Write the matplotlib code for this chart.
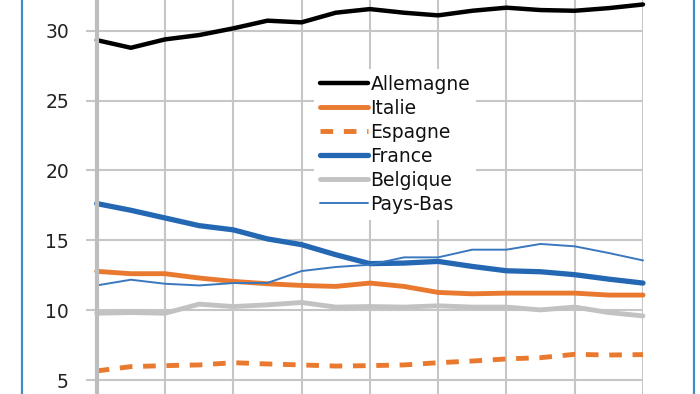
import matplotlib
matplotlib.use("Agg")
import matplotlib.pyplot as plt
from matplotlib.lines import Line2D

# ---- data (17 periods) ----
periods = list(range(17))
allemagne = [29.33, 28.78, 29.38, 29.69, 30.17, 30.72, 30.60, 31.29, 31.55,
             31.29, 31.10, 31.43, 31.65, 31.48, 31.43, 31.62, 31.88]
italie = [12.78, 12.61, 12.61, 12.30, 12.06, 11.89, 11.77, 11.70, 11.94,
          11.70, 11.27, 11.17, 11.22, 11.22, 11.22, 11.08, 11.08]
espagne = [5.65, 5.96, 6.03, 6.08, 6.24, 6.15, 6.08, 6.00, 6.03,
           6.08, 6.24, 6.36, 6.51, 6.60, 6.84, 6.79, 6.82]
france = [17.63, 17.15, 16.60, 16.05, 15.75, 15.10, 14.69, 13.97, 13.33,
          13.37, 13.49, 13.13, 12.82, 12.75, 12.54, 12.22, 11.94]
belgique = [9.78, 9.83, 9.78, 10.43, 10.26, 10.38, 10.55, 10.22, 10.26,
            10.22, 10.31, 10.22, 10.22, 10.02, 10.22, 9.83, 9.59]
pays_bas = [11.77, 12.18, 11.89, 11.77, 11.94, 11.95, 12.80, 13.09, 13.25,
            13.78, 13.78, 14.33, 14.33, 14.74, 14.57, 14.09, 13.56]
y_ticks = [5, 10, 15, 20, 25, 30]

W, H = 700, 394
fig = plt.figure(figsize=(W / 100, H / 100), dpi=100)
fig.patch.set_facecolor("white")

ax_left, ax_right = 96.7, 643.0
ax = fig.add_axes([ax_left / W, 0, (ax_right - ax_left) / W, 1])
ax.set_xlim(0, 16)
ax.set_ylim(4.0, 32.2)

grid_c = "#C6C6C6"
ax.set_xticks(range(0, 17, 2))
ax.set_yticks(y_ticks)
ax.tick_params(axis="x", length=0, labelbottom=False)
ax.tick_params(axis="y", length=8, width=1.5, color=grid_c, pad=12,
               labelsize=13.5, labelcolor="#222222")
ax.grid(True, color=grid_c, linewidth=1.5)
ax.set_axisbelow(True)
for s in ["top", "right", "bottom"]:
    ax.spines[s].set_visible(False)
ax.spines["left"].set_color("#BDBDBD")
ax.spines["left"].set_linewidth(3)

kw = dict(clip_on=False, solid_capstyle="round")
ax.plot(periods, allemagne, color="#000000", lw=3.2, label="Allemagne", **kw)
ax.plot(periods, italie, color="#E8792F", lw=3.5, label="Italie", **kw)
ax.plot(periods, espagne, color="#E8792F", lw=3.5, ls=(0, (2.6, 2.2)),
        label="Espagne", clip_on=False)
ax.plot(periods, france, color="#2467B3", lw=3.8, label="France", **kw)
ax.plot(periods, belgique, color="#C2C2C2", lw=3.5, label="Belgique", **kw)
ax.plot(periods, pays_bas, color="#3A78BE", lw=1.4, label="Pays-Bas", **kw)

leg = ax.legend(loc="upper left", bbox_to_anchor=(314 / W, 1 - 69 / H),
                bbox_transform=fig.transFigure, frameon=True, fancybox=False,
                edgecolor="none", facecolor="white", framealpha=1,
                fontsize=13.5, handlelength=2.6, handletextpad=0.12,
                labelspacing=0.27, borderpad=0.3, borderaxespad=0)
for t in leg.get_texts():
    t.set_color("#111111")

# blue outer frame (left and right edges)
for xp in (22, 694):
    fig.add_artist(Line2D([xp / W, xp / W], [0, 1], color="#3F8CC8",
                          lw=1.6, transform=fig.transFigure))

fig.savefig("out.png", dpi=100)
